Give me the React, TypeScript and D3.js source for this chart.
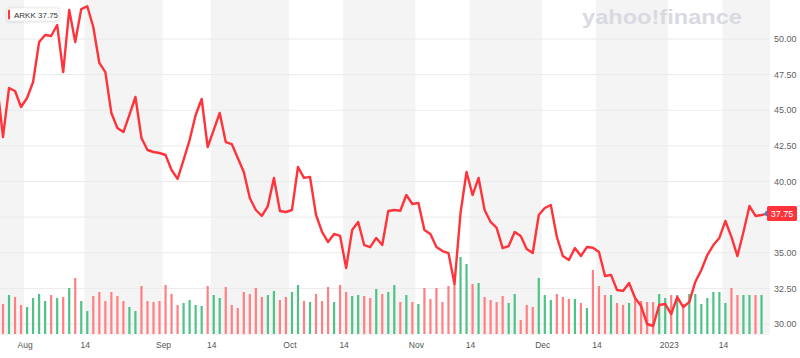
import React from "react";
import * as d3 from "d3";

const symbol = "ARKK";

// Daily closes, Jul 25 2022 .. Jan 26 2023 (trading days)
const prices: number[] = [
  46.9, 43.12, 46.56, 46.35, 45.23, 45.86, 46.98, 49.79, 50.28, 50.21,
  50.98, 47.68, 52.04, 49.79, 52.1, 52.3, 50.84, 48.32, 47.68, 44.81,
  43.75, 43.47, 44.67, 45.93, 43.05, 42.21, 42.07, 42.0, 41.86, 40.81,
  40.18, 41.51, 42.91, 44.67, 45.79, 42.42, 43.61, 44.81, 42.77, 42.63,
  41.65, 40.67, 38.84, 38.0, 37.58, 38.28, 40.25, 37.93, 37.86, 38.0,
  41.02, 40.25, 40.32, 37.65, 36.46, 35.75, 36.32, 36.18, 33.93, 36.6,
  37.16, 35.54, 35.4, 36.04, 35.54, 37.93, 38.0, 37.95, 39.05, 38.42,
  38.5, 36.6, 36.32, 35.4, 35.12, 34.98, 32.81, 37.79, 40.67, 39.05,
  40.25, 38.0, 37.16, 36.74, 35.33, 35.47, 36.46, 36.18, 35.26, 34.98,
  37.65, 38.14, 38.35, 36.11, 34.77, 34.49, 35.33, 34.77, 35.4, 35.35,
  35.05, 33.37, 33.45, 32.39, 32.32, 32.88, 31.82, 31.26, 30.0, 29.86,
  31.33, 31.4, 30.7, 31.89, 31.19, 31.54, 32.95, 33.79, 34.84, 35.54,
  36.04, 37.23, 36.11, 34.77, 36.46, 38.28, 37.58, 37.65, 37.75,
];

// Volumes (millions)
const volumes: (number | null)[] = [
  15, 15, 19.5, 18.5, 14.5, 13.5, 18, 20, 16.5, 19.5,
  18, 18.5, 23, 28, 16.5, 11.5, 19, 21, 16.5, 21,
  19, 16.5, 13.5, 11.5, 24, 16.5, 16, 16.5, 24.5, 20,
  14.5, 15.5, 17, 14.5, 14, 24, 19.5, 18, 23.5, 14.5,
  13, 21, 20, 23, 18.5, 19.5, 21.5, 17, 18.5, 21,
  24.5, 16.5, 16, 20, 16.5, 23.5, 16, 24.5, 21, 19,
  19.5, 19, 18, 22.5, 20, 21, 24.5, 16, 19.5, 16,
  15, 23, 17.5, 23, 16, 24, 25, 38.5, 35, 25,
  25.5, 18.5, 17, 16, 19, 15.5, 20, 7, 14.5, 13.5,
  28, 19.5, 17, 20, 18.5, 17.5, 17.5, 15.5, 13, 32,
  24, 19.5, 19.5, 15.5, 14.5, 15.5, 17.5, 16.5, 16, 16,
  20, 18, 19.5, 19.5, 15, 20, 20, 15, 18, 21,
  21, 15.5, 23, 19.5, 19.5, 19.5, 19.5, 19.5, null,
];

const tickIndex = [5, 15, 28, 36, 49, 58, 70, 79, 91, 100, 112, 121];
const tickLabels = ["Aug", "14", "Sep", "14", "Oct", "14", "Nov", "14", "Dec", "14", "2023", "14"];
const yTicks = [30, 32.5, 35, 37.5, 40, 42.5, 45, 47.5, 50];

const FONT = "'Liberation Sans', Arial, sans-serif";
const RED = "#ff333a";

export default function App() {
  const W = 800;
  const H = 358;
  const plotR = 770;
  const plotB = 334;
  const n = prices.length;

  const x = d3.scaleLinear().domain([0, n - 1]).range([-3.02, -3.02 + 6.02 * (n - 1)]);
  const y = d3.scaleLinear().domain([30, 50]).range([324, 39]);
  const v = d3.scaleLinear().domain([0, 50]).range([plotB, plotB - 100]);

  const line = d3
    .line<number>()
    .x((_, i) => x(i))
    .y((d) => y(d));

  const b = (i: number) => x(i) - 3;
  const bands: [number, number][] = [[0, b(tickIndex[0])]];
  for (let k = 1; k < tickIndex.length; k += 2) {
    const s = b(tickIndex[k]);
    const e = k + 1 < tickIndex.length ? b(tickIndex[k + 1]) : plotR;
    bands.push([s, e]);
  }

  const last = prices[n - 1];
  const lastY = y(last);

  return (
    <div style={{ position: "absolute", left: 0, top: 0 }}>
      <svg width={W} height={H} style={{ display: "block", background: "#fff" }}>
        <defs>
          <clipPath id="plotclip">
            <rect x={0} y={0} width={plotR} height={plotB + 2} />
          </clipPath>
          <filter id="shadow" x="-20%" y="-40%" width="140%" height="180%">
            <feDropShadow dx="0" dy="0.5" stdDeviation="0.8" floodColor="#000" floodOpacity="0.18" />
          </filter>
        </defs>

        {/* alternating bands */}
        {bands.map(([s, e], k) => (
          <rect key={"b" + k} x={s} y={0} width={Math.max(0, e - s)} height={plotB + 1} fill="#f4f4f4" />
        ))}

        {/* gridlines */}
        {yTicks.map((t) => (
          <line key={"g" + t} x1={0} x2={plotR} y1={y(t)} y2={y(t)} stroke="#eaeaea" strokeWidth={1} />
        ))}

        {/* watermark */}
        <text
          x={582}
          y={24}
          fontFamily={FONT}
          fontWeight={900}
          fontSize={21}
          fill="#d9dae1"
          textLength={160}
          lengthAdjust="spacingAndGlyphs"
        >
          yahoo!finance
        </text>

        <g clipPath="url(#plotclip)">
          {/* volume bars */}
          {volumes.map((vol, i) => {
            if (vol == null) return null;
            const up = i === 0 ? true : prices[i] >= prices[i - 1];
            return (
              <rect
                key={"v" + i}
                x={x(i) - 1.1}
                y={v(vol)}
                width={2.2}
                height={plotB - v(vol)}
                fill={up ? "#4fc287" : "#ff7f82"}
              />
            );
          })}

          {/* price line */}
          <path d={line(prices) || ""} fill="none" stroke={RED} strokeWidth={2.4} strokeLinejoin="round" />
        </g>

        {/* last point dot */}
        <circle cx={x(n - 1)} cy={lastY} r={2.8} fill="#1e88f0" />

        {/* y axis labels (the one under the price tag is hidden, as in the reference) */}
        {yTicks
          .filter((t) => Math.abs(y(t) - lastY) > 9)
          .map((t) => (
            <text key={"y" + t} x={774} y={y(t) + 3.2} fontFamily={FONT} fontSize={9} fill="#5f5f5f">
              {t.toFixed(2)}
            </text>
          ))}

        {/* last price tag */}
        <rect x={767} y={lastY - 7.5} width={30} height={15} rx={1.5} fill={RED} />
        <text x={782} y={lastY + 3.2} textAnchor="middle" fontFamily={FONT} fontSize={9} fill="#fff">
          {last.toFixed(2)}
        </text>

        {/* x axis labels */}
        {tickIndex.map((ti, k) => (
          <text
            key={"x" + k}
            x={x(ti) - 2}
            y={348}
            textAnchor="middle"
            fontFamily={FONT}
            fontSize={8.5}
            fill="#555"
          >
            {tickLabels[k]}
          </text>
        ))}

        {/* legend */}
        <g filter="url(#shadow)">
          <rect x={7} y={8} width={52} height={13} rx={2} fill="#fff" stroke="#e2e2e2" strokeWidth={0.6} />
        </g>
        <rect x={8} y={9.5} width={2} height={10} rx={1} fill={RED} />
        <text x={14} y={17.8} fontFamily={FONT} fontSize={8} fill="#333">
          {symbol} {last.toFixed(2)}
        </text>
      </svg>
    </div>
  );
}
